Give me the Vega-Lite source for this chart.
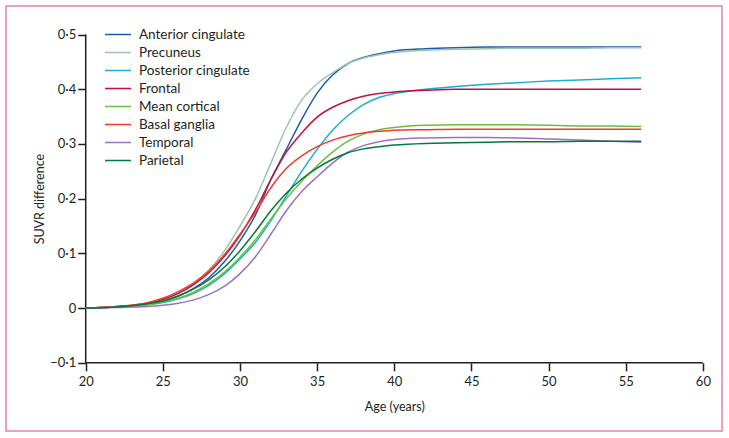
{
  "$schema": "https://vega.github.io/schema/vega-lite/v6.json",
  "width": 716,
  "height": 425,
  "autosize": "none",
  "padding": {"left": 6, "top": 6, "right": 7, "bottom": 7},
  "background": "white",
  "config": {
    "view": {"stroke": "#e4849f", "strokeWidth": 1.5},
    "font": "Lato",
    "axis": {
      "domain": false,
      "grid": false,
      "tickSize": 8,
      "tickWidth": 1.5,
      "tickColor": "#231f20",
      "labelFontSize": 13,
      "labelColor": "#231f20",
      "titleFontSize": 12.5,
      "titleFontWeight": "normal",
      "titleColor": "#231f20"
    }
  },
  "datasets": {
    "curves": [
      {"age": 20, "Anterior cingulate": 0, "Precuneus": 0, "Posterior cingulate": 0, "Frontal": 0, "Mean cortical": 0, "Basal ganglia": 0, "Temporal": 0, "Parietal": 0},
      {"age": 22, "Anterior cingulate": 0.002, "Precuneus": 0.002, "Posterior cingulate": 0.002, "Frontal": 0.003, "Mean cortical": 0.002, "Basal ganglia": 0.003, "Temporal": 0.001, "Parietal": 0.002},
      {"age": 24, "Anterior cingulate": 0.007, "Precuneus": 0.008, "Posterior cingulate": 0.006, "Frontal": 0.009, "Mean cortical": 0.006, "Basal ganglia": 0.01, "Temporal": 0.003, "Parietal": 0.008},
      {"age": 25, "Anterior cingulate": 0.013, "Precuneus": 0.015, "Posterior cingulate": 0.01, "Frontal": 0.016, "Mean cortical": 0.011, "Basal ganglia": 0.018, "Temporal": 0.005, "Parietal": 0.013},
      {"age": 26, "Anterior cingulate": 0.022, "Precuneus": 0.027, "Posterior cingulate": 0.017, "Frontal": 0.027, "Mean cortical": 0.018, "Basal ganglia": 0.03, "Temporal": 0.009, "Parietal": 0.022},
      {"age": 27, "Anterior cingulate": 0.036, "Precuneus": 0.045, "Posterior cingulate": 0.027, "Frontal": 0.043, "Mean cortical": 0.029, "Basal ganglia": 0.046, "Temporal": 0.015, "Parietal": 0.035},
      {"age": 28, "Anterior cingulate": 0.056, "Precuneus": 0.07, "Posterior cingulate": 0.042, "Frontal": 0.065, "Mean cortical": 0.045, "Basal ganglia": 0.068, "Temporal": 0.025, "Parietal": 0.052},
      {"age": 29, "Anterior cingulate": 0.085, "Precuneus": 0.105, "Posterior cingulate": 0.063, "Frontal": 0.095, "Mean cortical": 0.066, "Basal ganglia": 0.098, "Temporal": 0.04, "Parietal": 0.075},
      {"age": 30, "Anterior cingulate": 0.123, "Precuneus": 0.15, "Posterior cingulate": 0.09, "Frontal": 0.133, "Mean cortical": 0.093, "Basal ganglia": 0.135, "Temporal": 0.063, "Parietal": 0.105},
      {"age": 31, "Anterior cingulate": 0.17, "Precuneus": 0.2, "Posterior cingulate": 0.12, "Frontal": 0.18, "Mean cortical": 0.125, "Basal ganglia": 0.175, "Temporal": 0.094, "Parietal": 0.14},
      {"age": 32, "Anterior cingulate": 0.235, "Precuneus": 0.265, "Posterior cingulate": 0.16, "Frontal": 0.235, "Mean cortical": 0.163, "Basal ganglia": 0.22, "Temporal": 0.135, "Parietal": 0.178},
      {"age": 33, "Anterior cingulate": 0.29, "Precuneus": 0.33, "Posterior cingulate": 0.205, "Frontal": 0.285, "Mean cortical": 0.2, "Basal ganglia": 0.255, "Temporal": 0.178, "Parietal": 0.21},
      {"age": 34, "Anterior cingulate": 0.345, "Precuneus": 0.38, "Posterior cingulate": 0.25, "Frontal": 0.32, "Mean cortical": 0.232, "Basal ganglia": 0.278, "Temporal": 0.213, "Parietal": 0.236},
      {"age": 35, "Anterior cingulate": 0.393, "Precuneus": 0.41, "Posterior cingulate": 0.29, "Frontal": 0.349, "Mean cortical": 0.26, "Basal ganglia": 0.295, "Temporal": 0.24, "Parietal": 0.256},
      {"age": 36, "Anterior cingulate": 0.426, "Precuneus": 0.43, "Posterior cingulate": 0.325, "Frontal": 0.367, "Mean cortical": 0.285, "Basal ganglia": 0.307, "Temporal": 0.265, "Parietal": 0.272},
      {"age": 37, "Anterior cingulate": 0.447, "Precuneus": 0.447, "Posterior cingulate": 0.352, "Frontal": 0.379, "Mean cortical": 0.305, "Basal ganglia": 0.315, "Temporal": 0.285, "Parietal": 0.284},
      {"age": 38, "Anterior cingulate": 0.458, "Precuneus": 0.457, "Posterior cingulate": 0.372, "Frontal": 0.387, "Mean cortical": 0.318, "Basal ganglia": 0.32, "Temporal": 0.297, "Parietal": 0.291},
      {"age": 39, "Anterior cingulate": 0.465, "Precuneus": 0.463, "Posterior cingulate": 0.385, "Frontal": 0.392, "Mean cortical": 0.326, "Basal ganglia": 0.323, "Temporal": 0.304, "Parietal": 0.295},
      {"age": 40, "Anterior cingulate": 0.47, "Precuneus": 0.467, "Posterior cingulate": 0.392, "Frontal": 0.395, "Mean cortical": 0.33, "Basal ganglia": 0.325, "Temporal": 0.308, "Parietal": 0.298},
      {"age": 42, "Anterior cingulate": 0.474, "Precuneus": 0.471, "Posterior cingulate": 0.4, "Frontal": 0.398, "Mean cortical": 0.334, "Basal ganglia": 0.326, "Temporal": 0.311, "Parietal": 0.301},
      {"age": 44, "Anterior cingulate": 0.476, "Precuneus": 0.473, "Posterior cingulate": 0.405, "Frontal": 0.4, "Mean cortical": 0.335, "Basal ganglia": 0.327, "Temporal": 0.312, "Parietal": 0.302},
      {"age": 46, "Anterior cingulate": 0.477, "Precuneus": 0.474, "Posterior cingulate": 0.409, "Frontal": 0.4, "Mean cortical": 0.335, "Basal ganglia": 0.327, "Temporal": 0.312, "Parietal": 0.303},
      {"age": 48, "Anterior cingulate": 0.477, "Precuneus": 0.475, "Posterior cingulate": 0.412, "Frontal": 0.4, "Mean cortical": 0.335, "Basal ganglia": 0.327, "Temporal": 0.311, "Parietal": 0.304},
      {"age": 50, "Anterior cingulate": 0.477, "Precuneus": 0.475, "Posterior cingulate": 0.415, "Frontal": 0.4, "Mean cortical": 0.334, "Basal ganglia": 0.327, "Temporal": 0.309, "Parietal": 0.304},
      {"age": 52, "Anterior cingulate": 0.477, "Precuneus": 0.475, "Posterior cingulate": 0.417, "Frontal": 0.4, "Mean cortical": 0.333, "Basal ganglia": 0.327, "Temporal": 0.307, "Parietal": 0.305},
      {"age": 54, "Anterior cingulate": 0.477, "Precuneus": 0.476, "Posterior cingulate": 0.419, "Frontal": 0.4, "Mean cortical": 0.333, "Basal ganglia": 0.327, "Temporal": 0.305, "Parietal": 0.305},
      {"age": 56, "Anterior cingulate": 0.477, "Precuneus": 0.476, "Posterior cingulate": 0.421, "Frontal": 0.4, "Mean cortical": 0.332, "Basal ganglia": 0.327, "Temporal": 0.303, "Parietal": 0.305}
    ]
  },
  "layer": [
    {
      "data": {"values": [{}]},
      "mark": {"type": "rule", "color": "#231f20", "strokeWidth": 1.5},
      "encoding": {
        "x": {"datum": 20, "type": "quantitative"},
        "x2": {"datum": 60},
        "y": {"datum": -0.1, "type": "quantitative"}
      }
    },
    {
      "data": {"values": [{}]},
      "mark": {"type": "rule", "color": "#231f20", "strokeWidth": 1.5},
      "encoding": {
        "x": {"datum": 20, "type": "quantitative"},
        "y": {"datum": -0.1, "type": "quantitative"},
        "y2": {"datum": 0.5}
      }
    },
    {
      "data": {"name": "curves"},
      "transform": [
        {"fold": ["Anterior cingulate", "Precuneus", "Posterior cingulate", "Frontal", "Mean cortical", "Basal ganglia", "Temporal", "Parietal"], "as": ["region", "suvr"]}
      ],
      "mark": {"type": "line", "interpolate": "monotone", "strokeWidth": 1.5},
      "encoding": {
        "x": {
          "field": "age",
          "type": "quantitative",
          "scale": {"domain": [14.835, 61.238], "nice": false, "zero": false},
          "axis": {
            "values": [20, 25, 30, 35, 40, 45, 50, 55, 60],
            "offset": -68.2,
            "labelPadding": 5,
            "title": "Age (years)",
            "titleX": 388.3,
            "titleY": 44,
            "titleBaseline": "middle",
            "titleAlign": "center"
          }
        },
        "y": {
          "field": "suvr",
          "type": "quantitative",
          "scale": {"domain": [-0.2246, 0.5521], "nice": false, "zero": false},
          "axis": {
            "values": [-0.1, 0, 0.1, 0.2, 0.3, 0.4, 0.5],
            "offset": -79.7,
            "labelPadding": 2,
            "labelExpr": "datum.value == 0 ? '0' : replace(format(datum.value, '.1f'), '.', '·')",
            "title": "SUVR difference",
            "titleX": -45.7,
            "titleY": 192.6,
            "titleAngle": -90,
            "titleBaseline": "middle",
            "titleAlign": "center"
          }
        },
        "color": {
          "field": "region",
          "type": "nominal",
          "sort": ["Anterior cingulate", "Precuneus", "Posterior cingulate", "Frontal", "Mean cortical", "Basal ganglia", "Temporal", "Parietal"],
          "scale": {
            "domain": ["Anterior cingulate", "Precuneus", "Posterior cingulate", "Frontal", "Mean cortical", "Basal ganglia", "Temporal", "Parietal"],
            "range": ["#1f5aa6", "#9cc5b0", "#1aaed0", "#c0103f", "#6cbf3e", "#ef3b2c", "#9b72c0", "#007a3d"]
          },
          "legend": {
            "orient": "none",
            "legendX": 98,
            "legendY": 19.8,
            "title": null,
            "padding": 0,
            "symbolType": "stroke",
            "symbolSize": 676,
            "symbolStrokeWidth": 1.5,
            "labelFontSize": 13.5,
            "labelColor": "#231f20",
            "labelOffset": 7,
            "labelLimit": 300,
            "clipHeight": 17.6,
            "rowPadding": 0
          }
        }
      }
    }
  ]
}
